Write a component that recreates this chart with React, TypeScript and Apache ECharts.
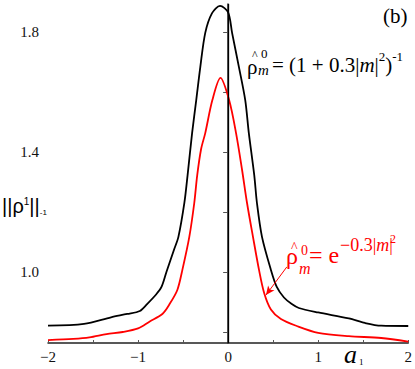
import React, { useEffect, useRef } from "react";
import * as echarts from "echarts";

// ---- data ----
const blackX = [-2.0, -1.6, -1.3, -1.12, -0.98, -0.9, -0.8, -0.74, -0.685, -0.6, -0.552, -0.486, -0.45, -0.4, -0.354, -0.309, -0.254, -0.18, -0.09, 0.0, 0.044, 0.12, 0.19, 0.23, 0.29, 0.32, 0.376, 0.475, 0.54, 0.62, 0.707, 0.785, 1.0, 1.34, 1.52, 1.7, 2.0];
const blackY = [0.821, 0.827, 0.849, 0.86, 0.87, 0.893, 0.925, 0.95, 1.0, 1.075, 1.117, 1.23, 1.323, 1.463, 1.573, 1.683, 1.797, 1.862, 1.887, 1.865, 1.797, 1.683, 1.573, 1.463, 1.323, 1.23, 1.117, 1.007, 0.95, 0.915, 0.893, 0.88, 0.865, 0.845, 0.83, 0.821, 0.82];

const redX = [-2.0, -1.72, -1.54, -1.35, -1.17, -1.0, -0.87, -0.73, -0.65, -0.564, -0.508, -0.431, -0.376, -0.343, -0.3, -0.254, -0.175, -0.085, 0.011, 0.088, 0.155, 0.21, 0.276, 0.343, 0.4, 0.475, 0.586, 0.762, 1.0, 1.34, 1.7, 2.0];
const redY = [0.773, 0.777, 0.782, 0.793, 0.8, 0.812, 0.835, 0.86, 0.893, 0.94, 1.007, 1.117, 1.23, 1.323, 1.41, 1.463, 1.573, 1.647, 1.573, 1.463, 1.34, 1.23, 1.117, 1.007, 0.93, 0.875, 0.843, 0.82, 0.797, 0.786, 0.78, 0.768];

const xTickLabels = [-2, -1, 0, 1, 2];
const yTickValues = [0.8, 1.0, 1.2, 1.4, 1.6, 1.8];
const yTickLabels = [1.0, 1.4, 1.8];
const yRange = [0.7633, 1.8933];
const arrowFrom = [0.652, 1.017];
const arrowTo = [0.42, 0.923];

const SERIF = "Liberation Serif";
const SANS = "Liberation Sans";

export default function App() {
  const ref = useRef<HTMLDivElement>(null);
  useEffect(() => {
    if (!ref.current) return;
    const chart = echarts.init(ref.current, null, { renderer: "svg" });
    const txt = (x: number, y: number, text: string, size: number, color: string, extra: any = {}, rich?: any) => ({
      type: "text",
      x,
      y,
      silent: true,
      style: {
        text,
        font: `${extra.italic ? "italic " : ""}${size}px ${extra.family || SERIF}`,
        fill: color,
        align: "left",
        verticalAlign: "middle",
        rich,
      },
    });
    const option: any = {
      animation: false,
      grid: { left: 48, right: 5, top: 4, bottom: 26, containLabel: false },
      xAxis: {
        type: "value",
        min: -2,
        max: 2,
        interval: 0.5,
        axisLine: { lineStyle: { color: "#222", width: 1.5 } },
        axisTick: { inside: true, length: 3, lineStyle: { color: "#555" } },
        splitLine: { show: false },
        axisLabel: {
          margin: 6,
          color: "#111",
          fontFamily: SERIF,
          fontSize: 15,
          formatter: (v: number) => (Number.isInteger(v) && xTickLabels.includes(v) ? String(v).replace("-", "−") : ""),
        },
      },
      yAxis: {
        type: "value",
        min: yRange[0],
        max: yRange[1],
        axisLine: { show: true, lineStyle: { color: "#222", width: 1.5 } },
        axisTick: { show: true, inside: false, length: 5, customValues: yTickValues, lineStyle: { color: "#555" } },
        splitLine: { show: false },
        axisLabel: {
          margin: 9,
          color: "#111",
          fontFamily: SERIF,
          fontSize: 15,
          customValues: yTickLabels,
          formatter: (v: number) => v.toFixed(1),
        },
      },
      series: [
        {
          type: "line",
          data: blackX.map((x, i) => [x, blackY[i]]),
          smooth: 0.3,
          showSymbol: false,
          lineStyle: { color: "#000", width: 1.8 },
          markLine: {
            silent: true,
            symbol: "none",
            label: { show: false },
            lineStyle: { color: "#000", width: 1.3, type: "solid" },
            data: [{ xAxis: 0 }],
          },
        },
        {
          type: "line",
          data: redX.map((x, i) => [x, redY[i]]),
          smooth: 0.3,
          showSymbol: false,
          lineStyle: { color: "#ff0000", width: 1.8 },
          markLine: {
            silent: true,
            symbol: ["none", "arrow"],
            symbolSize: [6, 9],
            label: { show: false },
            lineStyle: { color: "#ff0000", width: 1, type: "solid" },
            data: [[{ coord: arrowFrom }, { coord: arrowTo }]],
          },
        },
      ],
      graphic: [
        txt(383, 16, "(b)", 21, "#000"),
        // black formula
        txt(247, 67, "ρ", 21, "#000"),
        txt(252, 55, "^", 12, "#000"),
        txt(261, 53, "0", 13, "#000"),
        txt(258, 70, "m", 15, "#000", { italic: true }),
        txt(272, 65, "= (1 + 0.3|{i|m}|{s|2}){s|-1}", 21, "#000", {}, {
          i: { fontStyle: "italic", fontFamily: SERIF, fontSize: 21, lineHeight: 30 },
          s: { fontFamily: SERIF, fontSize: 13, verticalAlign: "top" },
        }),
        // red formula
        txt(286, 256, "ρ", 24, "#ff0000"),
        txt(291, 247, "^", 14, "#ff0000"),
        txt(301, 250, "0", 14, "#ff0000"),
        txt(299, 268, "m", 16, "#ff0000", { italic: true }),
        txt(309, 255, "= e", 24, "#ff0000"),
        txt(340, 245, "−0.3|{i|m}|", 18, "#ff0000", {}, {
          i: { fontStyle: "italic", fontFamily: SERIF, fontSize: 18 },
        }),
        txt(390, 239, "2", 12, "#ff0000"),
        // y-axis label
        txt(2, 206, "||ρ{s|1}||{b|-1}", 20, "#000", { family: SANS }, {
          s: { fontFamily: SANS, fontSize: 10, verticalAlign: "top" },
          b: { fontFamily: SANS, fontSize: 8, verticalAlign: "bottom" },
        }),
        // x-axis label
        txt(344, 354, "a", 26, "#000", { italic: true }),
        txt(359, 362, "1", 9, "#000"),
      ],
    };
    chart.setOption(option);
    return () => chart.dispose();
  }, []);
  return <div ref={ref} style={{ position: "fixed", left: 0, top: 0, width: 415, height: 369, background: "#fff" }} />;
}
